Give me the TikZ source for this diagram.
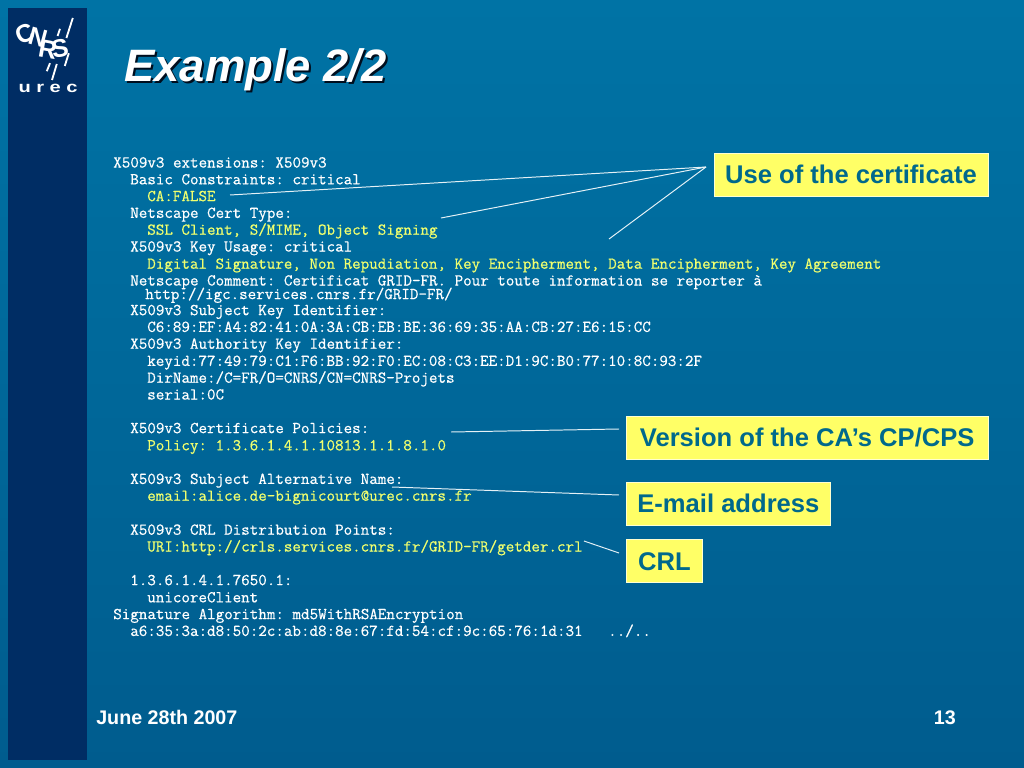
\documentclass[tikz,border=0pt]{standalone}
\usepackage{fontspec}
\setmainfont{Liberation Sans}
\setmonofont[FakeBold=0.6]{Latin Modern Mono}
\frenchspacing
\definecolor{slidetop}{RGB}{0,115,165}
\definecolor{slidebot}{RGB}{0,92,142}
\definecolor{sidebar}{RGB}{0,45,100}
\definecolor{notefill}{RGB}{255,255,102}
\definecolor{notetext}{RGB}{0,105,140}
\definecolor{certkey}{RGB}{240,255,110}
\tikzset{
	certline/.style={anchor=base west, inner sep=0pt, yshift=-0.8pt, text=white, font=\ttfamily\fontsize{11.79}{13}\selectfont},
	certval/.style={certline, text=certkey},
	notebox/.style={fill=notefill, draw=white!70!notefill, line width=0.3pt, inner sep=0pt, text=notetext, font=\bfseries\fontsize{18.2}{22}\selectfont},
	callout/.style={draw=white!90!slidetop, line width=0.7pt},
	logotext/.style={inner sep=0pt, text=white, font=\bfseries\fontsize{18}{18}\selectfont},
	logobar/.style={white, line width=1.3pt},
	foottext/.style={inner sep=0pt, text=white, font=\bfseries\fontsize{14}{16}\selectfont}
}
\begin{document}
\begin{tikzpicture}
	\useasboundingbox (0,0) rectangle (25.6,-19.2);
	\shade[top color=slidetop, bottom color=slidebot] (0,0) rectangle (25.6,-19.2);
	\fill[sidebar] (0.2,-0.2) rectangle (2.175,-19);
	% logo
	\node[logotext, rotate=25] (logoc) at (0.62,-0.84) {C};
	\node[logotext, rotate=-15] (logon) at (0.95,-0.93) {N};
	\node[logotext, rotate=-10] (logor) at (1.2,-1.25) {R};
	\node[logotext, rotate=10] (logos) at (1.5,-1.2) {S};
	\foreach \xa/\ya/\xb/\yb in {1.82/-0.45/1.66/-0.95, 1.5/-0.72/1.44/-0.9, 1.72/-1.33/1.62/-1.65, 1.25/-1.58/1.17/-1.78, 1.42/-1.6/1.3/-2.0}
		\draw[logobar] (\xa,\ya) -- (\xb,\yb);
	\node[inner sep=0pt, text=white, xscale=1.3, transform shape, font=\bfseries\fontsize{11}{11}\selectfont] (logourec) at (1.2,-2.21) {u\hspace{3pt}r\hspace{3pt}e\hspace{3pt}c};
	% title
	\node[anchor=base west, inner sep=0pt, text=black!70!sidebar, font=\bfseries\itshape\fontsize{32.3}{36}\selectfont] (titleshadow) at (3.15,-2.1) {Example 2/2};
	\node[anchor=base west, inner sep=0pt, text=white, font=\bfseries\itshape\fontsize{32.3}{36}\selectfont] (title) at (3.1,-2.05) {Example 2/2};
	% certificate dump
	\node[certline] (ln01) at (2.825,-4.16) {X509v3 extensions: X509v3};
	\node[certline] (ln02) at (3.25,-4.58) {Basic Constraints: critical};
	\node[certval] (ln03) at (3.675,-5.0) {CA:FALSE};
	\node[certline] (ln04) at (3.25,-5.42) {Netscape Cert Type:};
	\node[certval] (ln05) at (3.675,-5.84) {SSL Client, S/MIME, Object Signing};
	\node[certline] (ln06) at (3.25,-6.26) {X509v3 Key Usage: critical};
	\node[certval] (ln07) at (3.675,-6.69) {Digital Signature, Non Repudiation, Key Encipherment, Data Encipherment, Key Agreement};
	\node[certline] (ln08) at (3.25,-7.11) {Netscape Comment: Certificat GRID-FR. Pour toute information se reporter à};
	\node[certline] (ln09) at (3.625,-7.45) {http://igc.services.cnrs.fr/GRID-FR/};
	\node[certline] (ln10) at (3.25,-7.85) {X509v3 Subject Key Identifier:};
	\node[certline] (ln11) at (3.675,-8.27) {C6:89:EF:A4:82:41:0A:3A:CB:EB:BE:36:69:35:AA:CB:27:E6:15:CC};
	\node[certline] (ln12) at (3.25,-8.69) {X509v3 Authority Key Identifier:};
	\node[certline] (ln13) at (3.675,-9.12) {keyid:77:49:79:C1:F6:BB:92:F0:EC:08:C3:EE:D1:9C:B0:77:10:8C:93:2F};
	\node[certline] (ln14) at (3.675,-9.54) {DirName:/C=FR/O=CNRS/CN=CNRS-Projets};
	\node[certline] (ln15) at (3.675,-9.96) {serial:0C};
	\node[certline] (ln16) at (3.25,-10.8) {X509v3 Certificate Policies:};
	\node[certval] (ln17) at (3.675,-11.23) {Policy: 1.3.6.1.4.1.10813.1.1.8.1.0};
	\node[certline] (ln18) at (3.25,-12.07) {X509v3 Subject Alternative Name:};
	\node[certval] (ln19) at (3.675,-12.49) {email:alice.de-bignicourt@urec.cnrs.fr};
	\node[certline] (ln20) at (3.25,-13.34) {X509v3 CRL Distribution Points:};
	\node[certval] (ln21) at (3.675,-13.76) {URI:http://crls.services.cnrs.fr/GRID-FR/getder.crl};
	\node[certline] (ln22) at (3.25,-14.6) {1.3.6.1.4.1.7650.1:};
	\node[certline] (ln23) at (3.675,-15.03) {unicoreClient};
	\node[certline] (ln24) at (2.825,-15.45) {Signature Algorithm: md5WithRSAEncryption};
	\node[certline] (ln25) at (3.25,-15.87) {a6:35:3a:d8:50:2c:ab:d8:8e:67:fd:54:cf:9c:65:76:1d:31\ \ \ ../..};
	% notes
	\node[notebox, minimum width=6.85cm, minimum height=1.075cm] (noteuse) at (21.275,-4.363) {Use of the certificate};
	\node[notebox, minimum width=9.04cm, minimum height=1.075cm] (noteversion) at (20.18,-10.94) {Version of the CA’s CP/CPS};
	\node[notebox, minimum width=5.11cm, minimum height=1.075cm] (noteemail) at (18.21,-12.59) {E-mail address};
	\node[notebox, minimum width=1.9cm, minimum height=1.075cm] (notecrl) at (16.61,-14.03) {CRL};
	% callouts
	\coordinate (usetip) at (17.65,-4.175);
	\coordinate (cafalse) at (5.75,-4.875);
	\coordinate (certtype) at (11.025,-5.45);
	\coordinate (keyusage) at (15.225,-5.975);
	\coordinate (versiontip) at (15.475,-10.725);
	\coordinate (policy) at (11.275,-10.8);
	\coordinate (emailtip) at (15.475,-12.375);
	\coordinate (emailsrc) at (9.8,-12.175);
	\coordinate (crltip) at (15.475,-13.825);
	\coordinate (crlsrc) at (14.6,-13.525);
	\draw[callout] (cafalse) -- (usetip);
	\draw[callout] (certtype) -- (usetip);
	\draw[callout] (keyusage) -- (usetip);
	\draw[callout] (policy) -- (versiontip);
	\draw[callout] (emailsrc) -- (emailtip);
	\draw[callout] (crlsrc) -- (crltip);
	% footer
	\node[foottext, anchor=base west] (footdate) at (2.4,-18.1) {June 28th 2007};
	\node[foottext, anchor=base east] (footpage) at (23.9,-18.1) {13};
\end{tikzpicture}
\end{document}
